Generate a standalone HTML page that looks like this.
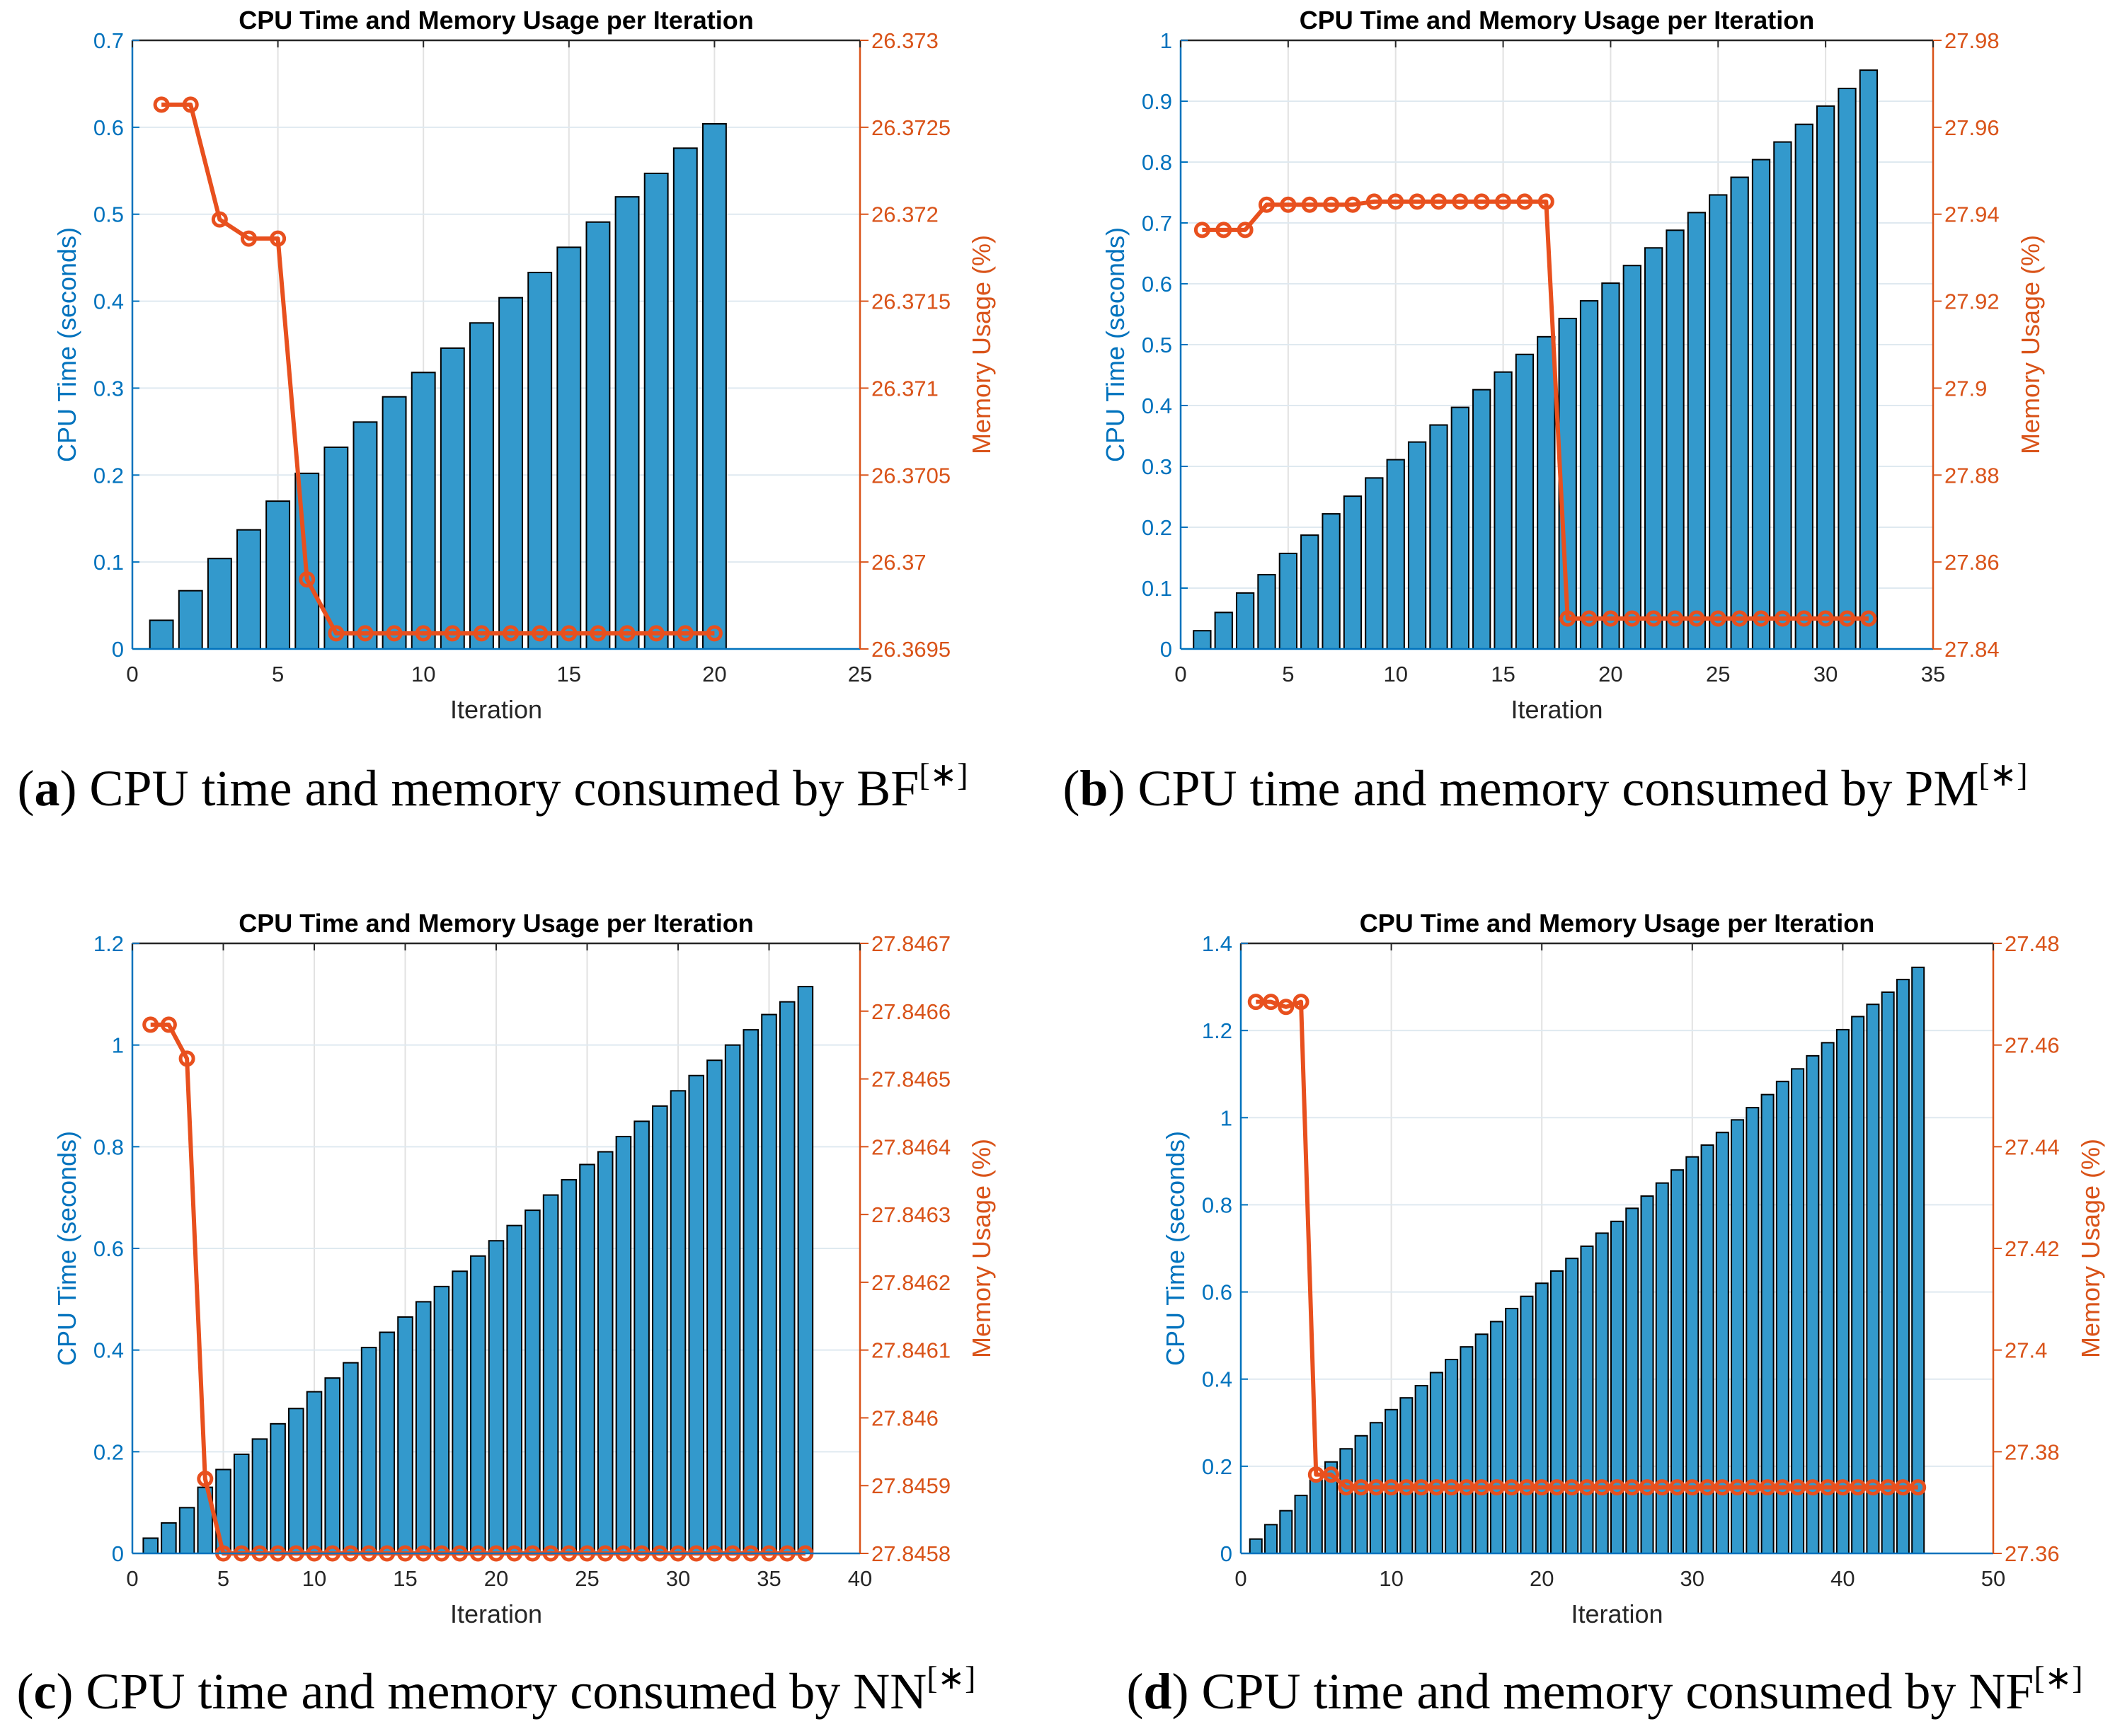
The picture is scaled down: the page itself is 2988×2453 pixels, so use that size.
<!DOCTYPE html>
<html><head><meta charset="utf-8"><style>
html,body{margin:0;padding:0;background:#fff;}
svg{display:block;}
text{font-family:"Liberation Sans",sans-serif;}
.cap{font-family:"Liberation Serif",serif;font-size:72px;fill:#000;}
</style></head><body>
<svg id="chart" width="2988" height="2453" viewBox="0 0 2988 2453" xmlns="http://www.w3.org/2000/svg">
<text class="cap" x="696" y="1138" text-anchor="middle">(<tspan font-weight="bold">a</tspan>) CPU time and memory consumed by BF<tspan dy="-28" font-size="46">[∗]</tspan></text>
<text class="cap" x="2183" y="1138" text-anchor="middle">(<tspan font-weight="bold">b</tspan>) CPU time and memory consumed by PM<tspan dy="-28" font-size="46">[∗]</tspan></text>
<text class="cap" x="701" y="2414" text-anchor="middle">(<tspan font-weight="bold">c</tspan>) CPU time and memory consumed by NN<tspan dy="-28" font-size="46">[∗]</tspan></text>
<text class="cap" x="2267" y="2414" text-anchor="middle">(<tspan font-weight="bold">d</tspan>) CPU time and memory consumed by NF<tspan dy="-28" font-size="46">[∗]</tspan></text>
</svg>
<script>
const cpuA=[0.033,0.067,0.104,0.137,0.170,0.202,0.232,0.261,0.290,0.318,0.346,0.375,0.404,0.433,0.462,0.491,0.520,0.547,0.576,0.604];
const memA=[26.37263,26.37263,26.37197,26.37186,26.37186,26.3699,26.36959,26.36959,26.36959,26.36959,26.36959,26.36959,26.36959,26.36959,26.36959,26.36959,26.36959,26.36959,26.36959,26.36959];
const cpuB=[0.03,0.06,0.092,0.122,0.157,0.187,0.222,0.251,0.281,0.311,0.34,0.368,0.397,0.426,0.455,0.484,0.513,0.543,0.572,0.601,0.630,0.659,0.688,0.717,0.746,0.775,0.804,0.833,0.862,0.892,0.921,0.951];
const memB=[27.9364,27.9364,27.9364,27.9422,27.9422,27.9422,27.9422,27.9422,27.9429,27.9429,27.9429,27.9429,27.9429,27.9429,27.9429,27.9429,27.9429,27.847,27.847,27.847,27.847,27.847,27.847,27.847,27.847,27.847,27.847,27.847,27.847,27.847,27.847,27.847];
const cpuC=[0.03,0.06,0.09,0.13,0.165,0.195,0.225,0.255,0.285,0.318,0.345,0.375,0.405,0.435,0.465,0.495,0.525,0.555,0.585,0.615,0.645,0.675,0.705,0.735,0.765,0.79,0.82,0.85,0.88,0.91,0.94,0.97,1.0,1.03,1.06,1.085,1.115];
const memC=[27.84658,27.84658,27.84653,27.84591].concat(Array(33).fill(27.8458));
const cpuD=[0.033,0.066,0.098,0.133,0.168,0.21,0.24,0.27,0.30,0.33,0.357,0.385,0.415,0.445,0.474,0.503,0.532,0.562,0.59,0.62,0.648,0.677,0.705,0.735,0.762,0.792,0.82,0.85,0.88,0.91,0.937,0.966,0.995,1.023,1.053,1.083,1.112,1.142,1.172,1.202,1.232,1.26,1.288,1.317,1.345];
const memD=[27.4685,27.4685,27.4675,27.4685,27.3755,27.3755].concat(Array(39).fill(27.373));
const xTicksA=[0,5,10,15,20,25], yTicksA=[0,0.1,0.2,0.3,0.4,0.5,0.6,0.7], rTicksA=["26.3695","26.37","26.3705","26.371","26.3715","26.372","26.3725","26.373"];
const xTicksB=[0,5,10,15,20,25,30,35], yTicksB=[0,0.1,0.2,0.3,0.4,0.5,0.6,0.7,0.8,0.9,1], rTicksB=["27.84","27.86","27.88","27.9","27.92","27.94","27.96","27.98"];
const xTicksC=[0,5,10,15,20,25,30,35,40], yTicksC=[0,0.2,0.4,0.6,0.8,1,1.2], rTicksC=["27.8458","27.8459","27.846","27.8461","27.8462","27.8463","27.8464","27.8465","27.8466","27.8467"];
const xTicksD=[0,10,20,30,40,50], yTicksD=[0,0.2,0.4,0.6,0.8,1,1.2,1.4], rTicksD=["27.36","27.38","27.4","27.42","27.44","27.46","27.48"];

const NS="http://www.w3.org/2000/svg";
const svg=document.getElementById('chart');
function mk(tag,attrs,parent){const e=document.createElementNS(NS,tag);for(const k in attrs)e.setAttribute(k,attrs[k]);(parent||svg).appendChild(e);return e;}
const BLUE="#0072BD",ORANGE="#D95319",LINE="#E8501E";

function panel(id,L,R,T,B,xT,yT,rT,cpu,mem){
  const g=mk('g',{});
  
  
  const xmax=xT[xT.length-1], ymax=yT[yT.length-1];
  const rmin=parseFloat(rT[0]), rmax=parseFloat(rT[rT.length-1]);
  const X=v=>L+(R-L)*v/xmax, Y=v=>B-(B-T)*v/ymax, YR=v=>B-(B-T)*(v-rmin)/(rmax-rmin);
  xT.forEach(v=>{if(v>0&&v<xmax){const l=mk('line',{x1:X(v),x2:X(v),y1:T,y2:B,stroke:'#e2e2e2','stroke-width':2},g);}});
  yT.forEach(v=>{if(v>0&&v<ymax){const l=mk('line',{x1:L,x2:R,y1:Y(v),y2:Y(v),stroke:'#dfe9f0','stroke-width':2},g);}});
  const bw=(R-L)/xmax*0.8;
  cpu.forEach((v,i)=>{const r=mk('rect',{x:X(i+1)-bw/2,y:Y(v),width:bw,height:B-Y(v),fill:'#3399CC',stroke:'#000','stroke-width':2},g);});
  const pl=mk('polyline',{points:mem.map((v,i)=>X(i+1)+','+YR(v)).join(' '),fill:'none',stroke:LINE,'stroke-width':6,'stroke-linejoin':'round'},g);
  
  mem.forEach((v,i)=>{const c=mk('circle',{cx:X(i+1),cy:YR(v),r:9,fill:'none',stroke:LINE,'stroke-width':5},g);});
  mk('line',{x1:L,x2:R,y1:T,y2:T,stroke:'#262626','stroke-width':2.5},g);
  mk('line',{x1:L,x2:R,y1:B,y2:B,stroke:BLUE,'stroke-width':2.5},g);
  mk('line',{x1:L,x2:L,y1:T,y2:B,stroke:BLUE,'stroke-width':2.5},g);
  mk('line',{x1:R,x2:R,y1:T,y2:B,stroke:ORANGE,'stroke-width':2.5},g);
  xT.forEach(v=>{mk('line',{x1:X(v),x2:X(v),y1:T,y2:T+10,stroke:'#262626','stroke-width':2},g);
    const t=mk('text',{x:X(v),y:B+46,'text-anchor':'middle','font-size':31,fill:'#262626'},g);t.textContent=v;
    });
  yT.forEach(v=>{mk('line',{x1:L,x2:L+10,y1:Y(v),y2:Y(v),stroke:BLUE,'stroke-width':2},g);
    const t=mk('text',{x:L-12,y:Y(v)+11,'text-anchor':'end','font-size':31,fill:BLUE},g);t.textContent=v;
    });
  rT.forEach(s=>{const y=YR(parseFloat(s));mk('line',{x1:R,x2:R+12,y1:y,y2:y,stroke:ORANGE,'stroke-width':2},g);
    const t=mk('text',{x:R+16,y:y+11,'font-size':31,fill:ORANGE},g);t.textContent=s;
    });
  const ti=mk('text',{x:(L+R)/2,y:T-16,'text-anchor':'middle','font-size':36,'font-weight':'bold',fill:'#000'},g);ti.textContent='CPU Time and Memory Usage per Iteration';
  
  const xl=mk('text',{x:(L+R)/2,y:B+98,'text-anchor':'middle','font-size':36,fill:'#262626'},g);xl.textContent='Iteration';
  
  const yl=mk('text',{x:0,y:0,'text-anchor':'middle','font-size':36,fill:BLUE,transform:`translate(${L-80},${(T+B)/2}) rotate(-90)`},g);yl.textContent='CPU Time (seconds)';
  
  const rl=mk('text',{x:0,y:0,'text-anchor':'middle','font-size':36,fill:ORANGE,transform:`translate(${R+(rT[0].length>5?184:150)},${(T+B)/2}) rotate(-90)`},g);rl.textContent='Memory Usage (%)';
  
}
panel('a',187,1215,57,917,xTicksA,yTicksA,rTicksA,cpuA,memA);
panel('b',1668,2731,57,917,xTicksB,yTicksB,rTicksB,cpuB,memB);
panel('c',187,1215,1333,2195,xTicksC,yTicksC,rTicksC,cpuC,memC);
panel('d',1753,2816,1333,2195,xTicksD,yTicksD,rTicksD,cpuD,memD);
</script>
</body></html>
